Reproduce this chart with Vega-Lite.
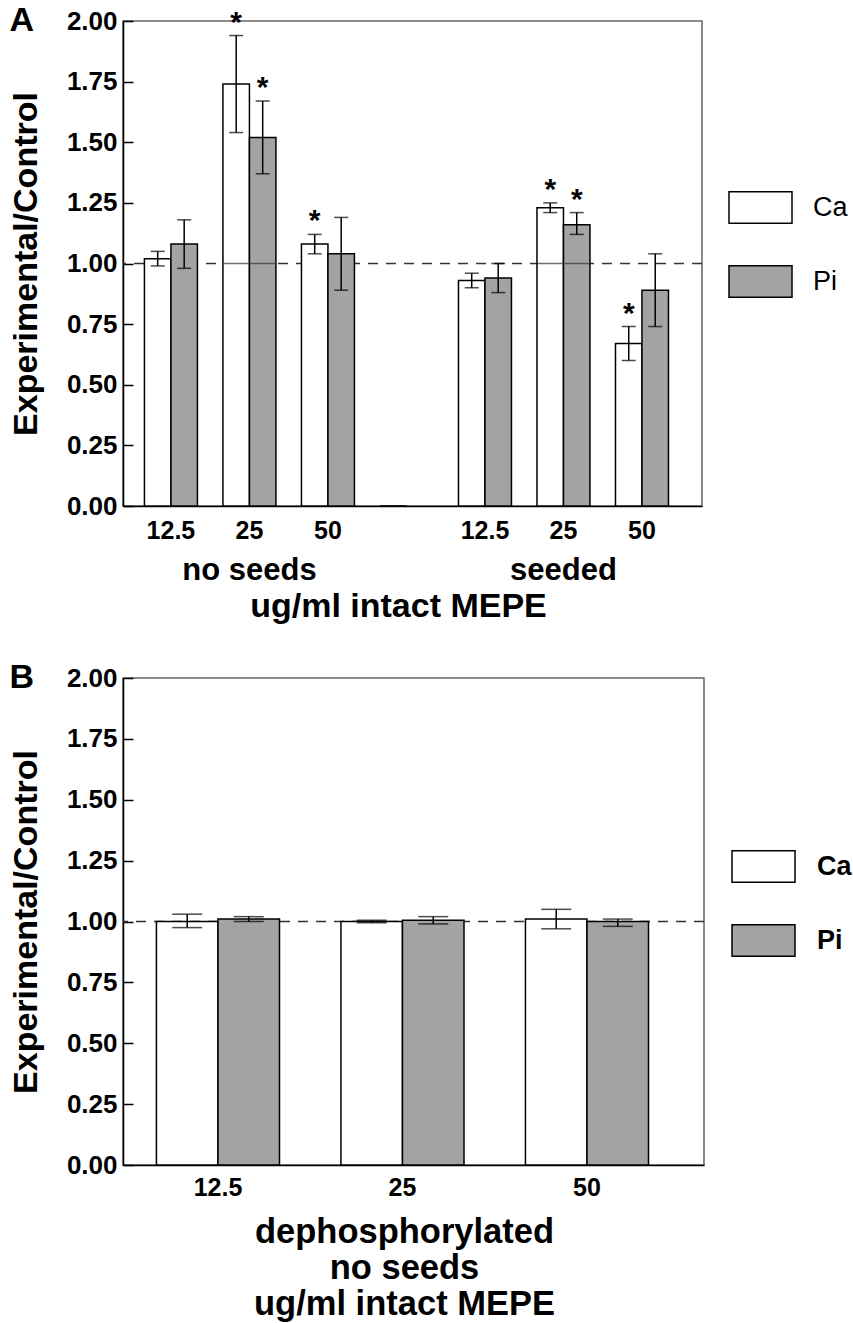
{
  "$schema": "https://vega.github.io/schema/vega-lite/v6.json",
  "padding": {"left": 8, "top": 2, "right": 5, "bottom": 5},
  "config": {
    "font": "Liberation Sans",
    "view": {"stroke": "#666666", "strokeWidth": 1.5},
    "axis": {"labelColor": "black", "titleColor": "black", "grid": false},
    "legend": {"labelColor": "black"},
    "title": {"color": "black"}
  },
  "datasets": {
    "a": [
      {"cat": "ns12.5", "series": "Ca", "value": 1.02, "lo": 0.99, "hi": 1.05, "sig": ""},
      {"cat": "ns12.5", "series": "Pi", "value": 1.08, "lo": 0.98, "hi": 1.18, "sig": ""},
      {"cat": "ns25", "series": "Ca", "value": 1.74, "lo": 1.54, "hi": 1.94, "sig": "*"},
      {"cat": "ns25", "series": "Pi", "value": 1.52, "lo": 1.37, "hi": 1.67, "sig": "*"},
      {"cat": "ns50", "series": "Ca", "value": 1.08, "lo": 1.04, "hi": 1.12, "sig": "*"},
      {"cat": "ns50", "series": "Pi", "value": 1.04, "lo": 0.89, "hi": 1.19, "sig": ""},
      {"cat": "gap", "series": "Ca", "value": 0, "lo": null, "hi": null, "sig": ""},
      {"cat": "s12.5", "series": "Ca", "value": 0.93, "lo": 0.9, "hi": 0.96, "sig": ""},
      {"cat": "s12.5", "series": "Pi", "value": 0.94, "lo": 0.88, "hi": 1.0, "sig": ""},
      {"cat": "s25", "series": "Ca", "value": 1.23, "lo": 1.21, "hi": 1.25, "sig": "*"},
      {"cat": "s25", "series": "Pi", "value": 1.16, "lo": 1.12, "hi": 1.21, "sig": "*"},
      {"cat": "s50", "series": "Ca", "value": 0.67, "lo": 0.6, "hi": 0.74, "sig": "*"},
      {"cat": "s50", "series": "Pi", "value": 0.89, "lo": 0.74, "hi": 1.04, "sig": ""}
    ],
    "aSolid": [
      {"cat": "ns25", "r": 1},
      {"cat": "s25", "r": 1}
    ],
    "b": [
      {"cat": "12.5", "series": "Ca", "value": 1.0, "lo": 0.975, "hi": 1.03},
      {"cat": "12.5", "series": "Pi", "value": 1.01, "lo": 1.0, "hi": 1.02},
      {"cat": "25", "series": "Ca", "value": 1.0, "lo": 0.995, "hi": 1.005},
      {"cat": "25", "series": "Pi", "value": 1.005, "lo": 0.99, "hi": 1.02},
      {"cat": "50", "series": "Ca", "value": 1.01, "lo": 0.97, "hi": 1.05},
      {"cat": "50", "series": "Pi", "value": 1.0, "lo": 0.98, "hi": 1.01}
    ],
    "ref": [{"r": 1}]
  },
  "spacing": 36,
  "resolve": {"scale": {"xOffset": "independent", "fill": "independent"}, "legend": {"fill": "independent"}},
  "vconcat": [
    {
      "width": 579,
      "height": 485,
      "title": {"text": "A", "anchor": "start", "frame": "bounds", "fontSize": 34, "fontWeight": "bold", "dx": 0, "dy": 30, "offset": 0},
      "resolve": {"axis": {"x": "independent"}},
      "layer": [
        {
          "data": {"name": "ref"},
          "mark": {"type": "rule", "strokeDash": [10, 8], "color": "#333333", "strokeWidth": 1.5},
          "encoding": {"y": {"field": "r", "type": "quantitative", "scale": {"domain": [0, 2]}}}
        },
        {
          "data": {"name": "a"},
          "mark": {"type": "bar", "stroke": "black", "strokeWidth": 1.5},
          "encoding": {
            "x": {"field": "cat", "type": "nominal",
              "scale": {"domain": ["ns12.5", "ns25", "ns50", "gap", "s12.5", "s25", "s50"], "paddingInner": 0.325, "paddingOuter": 0.35, "align": 0.39},
              "axis": {"orient": "bottom", "title": null, "labelExpr": "datum.value == 'gap' ? '' : replace(replace(datum.value, 'ns', ''), 's', '')", "labelAngle": 0, "labelFontSize": 25, "labelFontWeight": "bold", "ticks": false, "domainColor": "black", "domainWidth": 1.5, "labelPadding": 12}},
            "xOffset": {"field": "series", "type": "nominal", "scale": {"domain": ["Ca", "Pi"], "paddingInner": 0, "paddingOuter": 0}},
            "y": {"field": "value", "type": "quantitative", "scale": {"domain": [0, 2]},
              "axis": {"values": [0, 0.25, 0.5, 0.75, 1, 1.25, 1.5, 1.75, 2], "format": ".2f", "title": "Experimental/Control", "titleFontSize": 34, "titleFontWeight": "bold", "labelFontSize": 26, "labelFontWeight": "bold", "tickSize": -10, "tickWidth": 1.5, "tickColor": "black", "domainColor": "black", "domainWidth": 1.5, "labelPadding": 16, "titlePadding": 23}},
            "fill": {"field": "series", "type": "nominal", "scale": {"domain": ["Ca", "Pi"], "range": ["#ffffff", "#a3a3a3"]},
              "legend": {"orient": "none", "legendX": 605, "legendY": 154, "title": null, "symbolType": "M-1,-0.5H1V0.5H-1Z", "symbolSize": 3969, "symbolStrokeColor": "black", "symbolStrokeWidth": 1.5, "labelFontSize": 27, "labelFontWeight": "normal", "labelOffset": 20, "rowPadding": 22, "padding": 0}}
          }
        },
        {
          "data": {"name": "aSolid"},
          "mark": {"type": "tick", "size": 53, "thickness": 1.5, "color": "#333333"},
          "encoding": {
            "x": {"field": "cat", "type": "nominal",
              "scale": {"domain": ["ns12.5", "ns25", "ns50", "gap", "s12.5", "s25", "s50"], "paddingInner": 0.325, "paddingOuter": 0.35, "align": 0.39},
              "axis": {"orient": "bottom", "title": "ug/ml intact MEPE", "titleFontSize": 34, "titleFontWeight": "bold", "titleX": 275, "titlePadding": 4, "labelExpr": "datum.value == 'ns25' ? 'no seeds' : datum.value == 's25' ? 'seeded' : ''", "labelAngle": 0, "labelFontSize": 31, "labelFontWeight": "bold", "ticks": false, "domain": false, "labelPadding": 49}},
            "y": {"field": "r", "type": "quantitative"}
          }
        },
        {
          "data": {"name": "a"},
          "mark": {"type": "rule", "color": "black", "strokeWidth": 1.5},
          "encoding": {
            "x": {"field": "cat", "type": "nominal", "scale": {"domain": ["ns12.5", "ns25", "ns50", "gap", "s12.5", "s25", "s50"], "paddingInner": 0.325, "paddingOuter": 0.35, "align": 0.39}, "axis": null},
            "xOffset": {"field": "series", "type": "nominal", "scale": {"domain": ["Ca", "Pi"], "paddingInner": 0, "paddingOuter": 0}},
            "y": {"field": "lo", "type": "quantitative"},
            "y2": {"field": "hi"}
          }
        },
        {
          "data": {"name": "a"},
          "mark": {"type": "tick", "size": 14, "thickness": 1.5, "color": "black"},
          "encoding": {
            "x": {"field": "cat", "type": "nominal", "scale": {"domain": ["ns12.5", "ns25", "ns50", "gap", "s12.5", "s25", "s50"], "paddingInner": 0.325, "paddingOuter": 0.35, "align": 0.39}, "axis": null},
            "xOffset": {"field": "series", "type": "nominal", "scale": {"domain": ["Ca", "Pi"], "paddingInner": 0, "paddingOuter": 0}},
            "y": {"field": "lo", "type": "quantitative"}
          }
        },
        {
          "data": {"name": "a"},
          "mark": {"type": "tick", "size": 14, "thickness": 1.5, "color": "black"},
          "encoding": {
            "x": {"field": "cat", "type": "nominal", "scale": {"domain": ["ns12.5", "ns25", "ns50", "gap", "s12.5", "s25", "s50"], "paddingInner": 0.325, "paddingOuter": 0.35, "align": 0.39}, "axis": null},
            "xOffset": {"field": "series", "type": "nominal", "scale": {"domain": ["Ca", "Pi"], "paddingInner": 0, "paddingOuter": 0}},
            "y": {"field": "hi", "type": "quantitative"}
          }
        },
        {
          "data": {"name": "a"},
          "transform": [{"filter": "datum.sig == '*'"}],
          "mark": {"type": "text", "fontSize": 30, "fontWeight": "bold", "baseline": "alphabetic", "dy": -4, "color": "black"},
          "encoding": {
            "x": {"field": "cat", "type": "nominal", "scale": {"domain": ["ns12.5", "ns25", "ns50", "gap", "s12.5", "s25", "s50"], "paddingInner": 0.325, "paddingOuter": 0.35, "align": 0.39}, "axis": null},
            "xOffset": {"field": "series", "type": "nominal", "scale": {"domain": ["Ca", "Pi"], "paddingInner": 0, "paddingOuter": 0}},
            "y": {"field": "hi", "type": "quantitative"},
            "text": {"field": "sig"}
          }
        }
      ]
    },
    {
      "width": 581,
      "height": 487,
      "title": {"text": "B", "anchor": "start", "frame": "bounds", "fontSize": 34, "fontWeight": "bold", "dx": 0, "dy": 30, "offset": 0},
      "layer": [
        {
          "data": {"name": "ref"},
          "mark": {"type": "rule", "strokeDash": [10, 8], "color": "#333333", "strokeWidth": 1.5},
          "encoding": {"y": {"field": "r", "type": "quantitative", "scale": {"domain": [0, 2]}}}
        },
        {
          "data": {"name": "b"},
          "mark": {"type": "bar", "stroke": "black", "strokeWidth": 1.5},
          "encoding": {
            "x": {"field": "cat", "type": "nominal",
              "scale": {"domain": ["12.5", "25", "50"], "paddingInner": 0.333, "paddingOuter": 0.241, "align": 0.376},
              "axis": {"title": ["dephosphorylated", "no seeds", "ug/ml intact MEPE"], "titleFontSize": 34.5, "titleFontWeight": "bold", "titleLineHeight": 36, "titleX": 281, "titlePadding": 15, "labelAngle": 0, "labelFontSize": 25, "labelFontWeight": "bold", "ticks": false, "domainColor": "black", "domainWidth": 1.5, "labelPadding": 10}},
            "xOffset": {"field": "series", "type": "nominal", "scale": {"domain": ["Ca", "Pi"], "paddingInner": 0, "paddingOuter": 0}},
            "y": {"field": "value", "type": "quantitative", "scale": {"domain": [0, 2]},
              "axis": {"values": [0, 0.25, 0.5, 0.75, 1, 1.25, 1.5, 1.75, 2], "format": ".2f", "title": "Experimental/Control", "titleFontSize": 34, "titleFontWeight": "bold", "labelFontSize": 26, "labelFontWeight": "bold", "tickSize": -10, "tickWidth": 1.5, "tickColor": "black", "domainColor": "black", "domainWidth": 1.5, "labelPadding": 16, "titlePadding": 23}},
            "fill": {"field": "series", "type": "nominal", "scale": {"domain": ["Ca", "Pi"], "range": ["#ffffff", "#a3a3a3"]},
              "legend": {"orient": "none", "legendX": 608, "legendY": 156, "title": null, "symbolType": "M-1,-0.5H1V0.5H-1Z", "symbolSize": 3969, "symbolStrokeColor": "black", "symbolStrokeWidth": 1.5, "labelFontSize": 27, "labelFontWeight": "bold", "labelOffset": 21, "rowPadding": 22, "padding": 0}}
          }
        },
        {
          "data": {"name": "b"},
          "mark": {"type": "rule", "color": "black", "strokeWidth": 1.5},
          "encoding": {
            "x": {"field": "cat", "type": "nominal", "scale": {"domain": ["12.5", "25", "50"], "paddingInner": 0.333, "paddingOuter": 0.241, "align": 0.376}},
            "xOffset": {"field": "series", "type": "nominal", "scale": {"domain": ["Ca", "Pi"], "paddingInner": 0, "paddingOuter": 0}},
            "y": {"field": "lo", "type": "quantitative"},
            "y2": {"field": "hi"}
          }
        },
        {
          "data": {"name": "b"},
          "mark": {"type": "tick", "size": 30, "thickness": 1.5, "color": "black"},
          "encoding": {
            "x": {"field": "cat", "type": "nominal", "scale": {"domain": ["12.5", "25", "50"], "paddingInner": 0.333, "paddingOuter": 0.241, "align": 0.376}},
            "xOffset": {"field": "series", "type": "nominal", "scale": {"domain": ["Ca", "Pi"], "paddingInner": 0, "paddingOuter": 0}},
            "y": {"field": "lo", "type": "quantitative"}
          }
        },
        {
          "data": {"name": "b"},
          "mark": {"type": "tick", "size": 30, "thickness": 1.5, "color": "black"},
          "encoding": {
            "x": {"field": "cat", "type": "nominal", "scale": {"domain": ["12.5", "25", "50"], "paddingInner": 0.333, "paddingOuter": 0.241, "align": 0.376}},
            "xOffset": {"field": "series", "type": "nominal", "scale": {"domain": ["Ca", "Pi"], "paddingInner": 0, "paddingOuter": 0}},
            "y": {"field": "hi", "type": "quantitative"}
          }
        }
      ]
    }
  ]
}
